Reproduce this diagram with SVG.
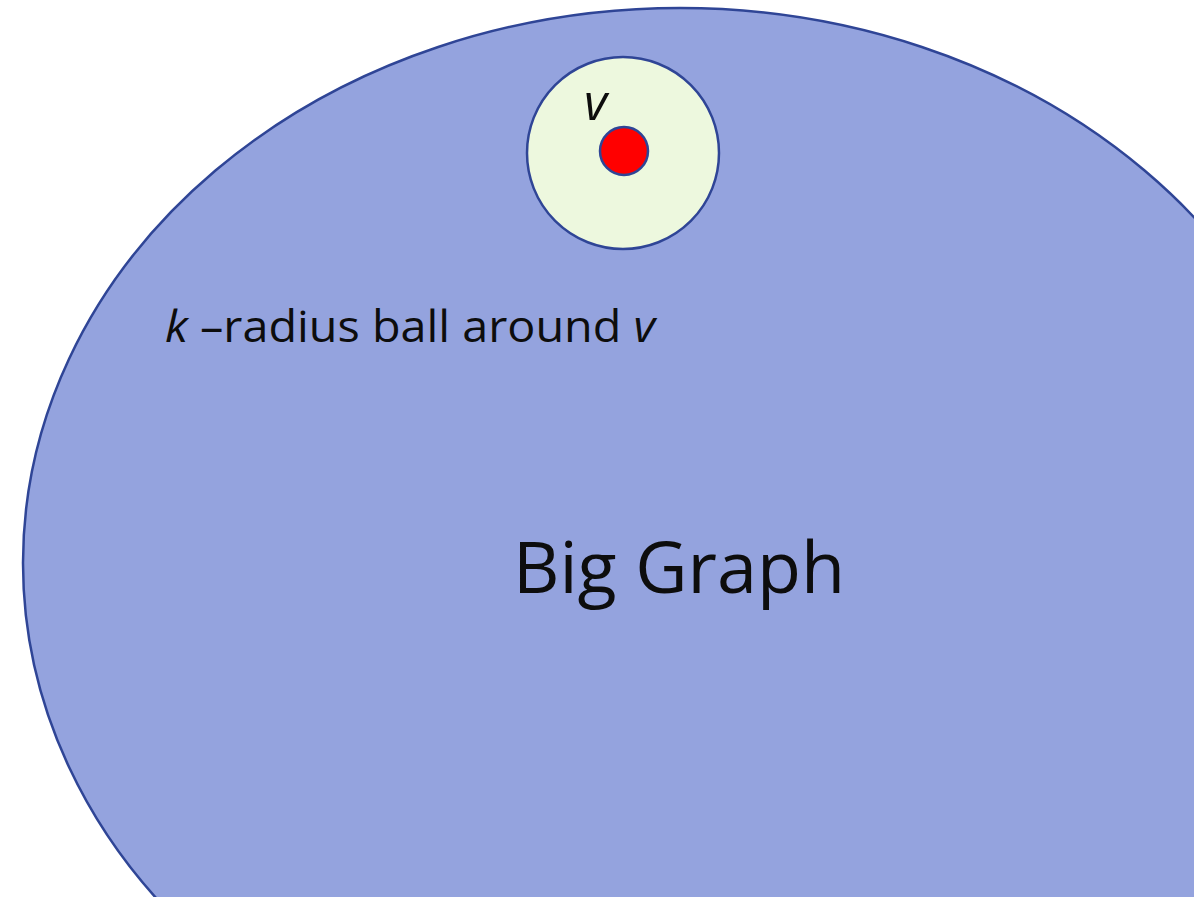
<svg xmlns="http://www.w3.org/2000/svg" width="1194" height="897" viewBox="0 0 1194 897">
<style>
.shape{stroke:#2F4596;stroke-width:2.5}
.t{font-family:"Open Sans","Noto Sans","Liberation Sans",sans-serif;fill:#0D0D0D}
</style>
<rect width="1194" height="897" fill="#FFFFFF"/>
<g id="big-graph">
<ellipse class="shape" cx="680" cy="563" rx="657" ry="555" fill="#94A3DE"/>
<text class="t" x="513" y="593" font-size="72" textLength="332" lengthAdjust="spacingAndGlyphs">Big Graph</text>
</g>
<g id="ball">
<circle class="shape" cx="623" cy="153" r="96" fill="#EDF8DE"/>
<text class="t" x="165" y="342" font-size="44" textLength="490" lengthAdjust="spacingAndGlyphs"><tspan font-style="italic">k</tspan> –radius ball around <tspan font-style="italic">v</tspan></text>
</g>
<g id="v">
<circle class="shape" cx="624" cy="151" r="24" fill="#FF0000" stroke-width="2"/>
<text class="t" x="584" y="120" font-size="50" font-style="italic">v</text>
</g>
<g id="connectors"/>
</svg>
